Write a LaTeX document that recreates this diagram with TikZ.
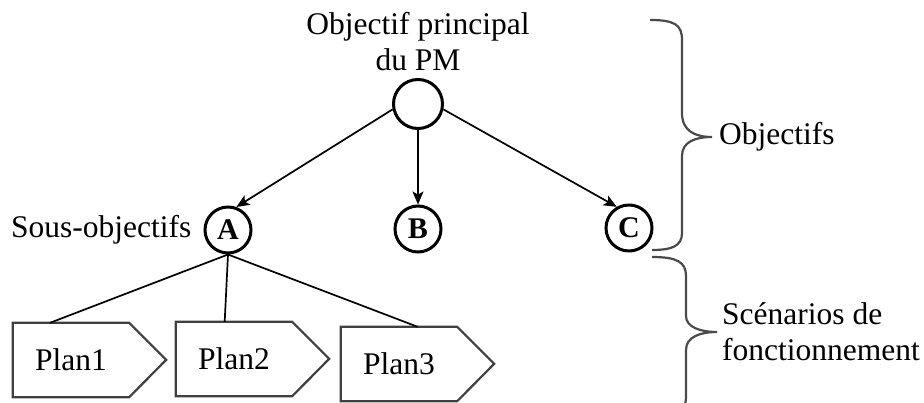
\documentclass[tikz,border=0pt]{standalone}
\usepackage{fontspec}
\setmainfont{Liberation Serif}
\usetikzlibrary{arrows.meta, positioning, calc}
\definecolor{edgegray}{HTML}{404040}
\definecolor{bracegray}{HTML}{4A4A4A}

\begin{document}
\begin{tikzpicture}[x=1pt, y=-1pt,
    goal/.style={circle, draw=black, line width=3pt, minimum size=46pt,
                 inner sep=0pt, font=\fontsize{30}{32}\selectfont\bfseries},
    txt/.style={inner sep=0pt, font=\fontsize{31.5}{36}\selectfont},
    plan/.style={rectangle, minimum width=116pt, minimum height=74pt,
                 inner sep=0pt, font=\fontsize{31.5}{36}\selectfont},
    planline/.style={draw=edgegray, line width=2.2pt, line join=miter},
    arrow/.style={-{Stealth[length=13pt, width=11pt, inset=3pt]}, line width=1.7pt},
    link/.style={line width=1.7pt},
    brace/.style={draw=bracegray, line width=2.2pt}
  ]
    \useasboundingbox (0,0) rectangle (924,403);

    % Goals
    \node[goal, minimum size=49pt] (root) at (418, 104) {};
    \node[goal] (A) at (228, 230) {A};
    \node[goal] (B) at (418, 229) {B};
    \node[goal] (C) at (629, 228) {C};

    % Labels
    \node[txt, align=center, above=7pt of root] (rootlbl) {Objectif principal\\du PM};
    \node[txt, left=12pt of A] (sublbl) {Sous-objectifs};

    % Plans
    \node[plan] (plan1) at (71, 360)  {Plan1};
    \node[plan] (plan2) at (234, 359) {Plan2};
    \node[plan] (plan3) at (399, 364) {Plan3};
    \draw[planline] (plan1.north west) -- (plan1.north east) -- ++(37,37) -- (plan1.south east) -- (plan1.south west) -- cycle;
    \draw[planline] (plan2.north west) -- (plan2.north east) -- ++(37,37) -- (plan2.south east) -- (plan2.south west) -- cycle;
    \draw[planline] (plan3.north west) -- (plan3.north east) -- ++(37,37) -- (plan3.south east) -- (plan3.south west) -- cycle;

    % Arrows
    \draw[arrow] (root.192) -- (A.70);
    \draw[arrow] (root.south) -- (B.north);
    \draw[arrow] (root.-12) -- (C.120);

    % Links to plans
    \draw[link] (A.south) -- ($(plan1.north west)!.32!(plan1.north east)$);
    \draw[link] (A.south) -- ($(plan2.north west)!.42!(plan2.north east)$);
    \draw[link] (A.south) -- ($(plan3.north west)!.66!(plan3.north east)$);

    % Braces
    \coordinate (objtip) at (712, 137);
    \coordinate (scntip) at (717, 332);
    \draw[brace] (650, 20) .. controls (675, 20) and (682, 25) .. (682, 40)
      -- (682, 113) .. controls (682, 131) and (695, 137) .. (objtip)
      .. controls (695, 137) and (682, 142) .. (682, 156)
      -- (682, 233) .. controls (682, 246) and (672, 250) .. (652, 250);
    \draw[brace] (652, 257) .. controls (677, 257) and (686, 262) .. (686, 276)
      -- (686, 316) .. controls (686, 327) and (700, 332) .. (scntip)
      .. controls (700, 332) and (686, 337) .. (686, 350)
      -- (686, 398) .. controls (686, 410) and (676, 414) .. (655, 414);

    \node[txt, right=7pt of objtip] (objlbl) {Objectifs};
    \node[txt, align=left, right=5pt of scntip] (scnlbl) {Scénarios de\\fonctionnement};
  \end{tikzpicture}
\end{document}
